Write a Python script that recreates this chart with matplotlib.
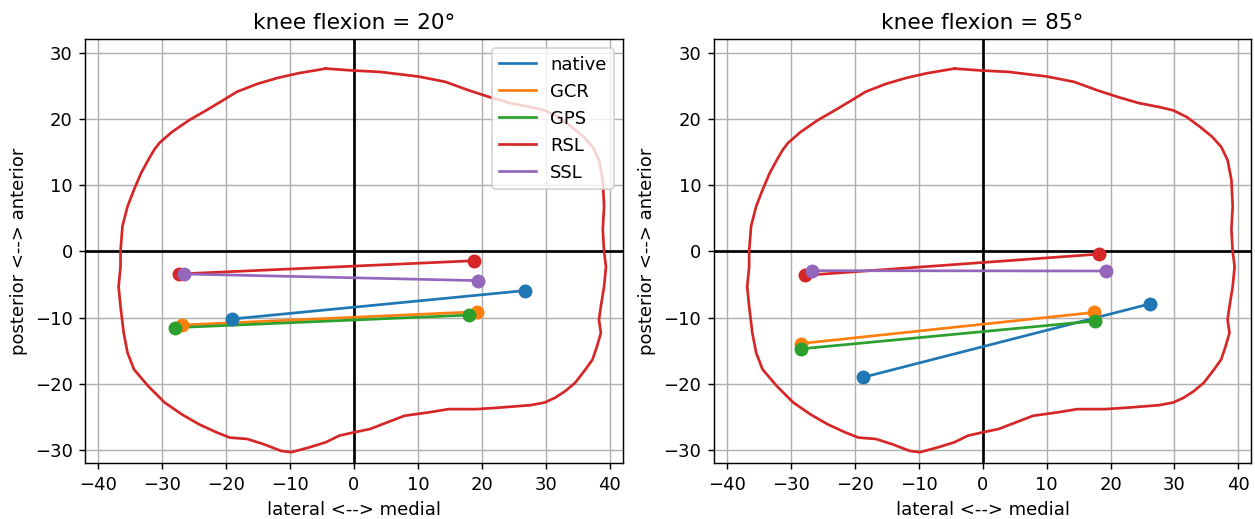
import numpy as np
import matplotlib
matplotlib.use("Agg")
import matplotlib.pyplot as plt

# tibial contour (same outline for both flexion angles)
contour_x = [-4.4, 0.0, 4.1, 10.1, 14.3, 18.0, 21.2, 24.4, 27.6, 29.8, 31.9, 34.0, 35.9, 37.3,
             38.3, 38.9, 39.1, 38.9, 39.1, 39.4, 39.1, 38.6, 38.3, 38.6, 38.0, 37.3, 36.2,
             34.6, 33.0, 31.4, 29.8, 27.6, 25.0, 22.3, 19.1, 14.8, 11.6, 7.9, 5.2, 2.5, 0.0,
             -2.3, -4.4, -7.1, -9.8, -11.4, -14.1, -16.7, -19.4, -21.5, -24.2, -26.9, -29.6,
             -32.2, -34.4, -35.4, -36.0, -36.5, -36.8, -36.5, -36.5, -36.2, -35.4, -34.4,
             -33.3, -32.0, -31.2, -30.4, -28.5, -25.8, -23.1, -20.5, -18.3, -15.1, -11.9, -8.7, -4.4]
contour_y = [27.6, 27.3, 27.1, 26.4, 25.6, 24.3, 23.3, 22.4, 21.8, 21.3, 20.3, 18.8, 17.3, 15.8,
             13.8, 10.8, 6.8, 3.3, 0.0, -2.3, -5.3, -8.3, -10.3, -12.3, -14.3, -16.3, -17.8,
             -19.8, -21.1, -22.1, -22.8, -23.2, -23.4, -23.6, -23.8, -23.8, -24.3, -24.8, -25.8,
             -26.8, -27.3, -27.8, -28.8, -29.6, -30.3, -30.1, -29.1, -28.3, -28.1, -27.3, -26.1,
             -24.6, -22.8, -20.3, -17.8, -15.3, -12.3, -8.3, -5.3, -2.3, 0.0, 3.8, 6.8, 9.3,
             11.8, 14.1, 15.4, 16.4, 18.0, 19.8, 21.3, 22.8, 24.1, 25.3, 26.2, 26.9, 27.6]

designs = ["native", "GCR", "GPS", "RSL", "SSL"]
angles = [20, 85]

# contact points: [lateral (x, y), medial (x, y)] per design
points_20 = {
    "native": [(-19.1, -10.2), (26.8, -5.9)],
    "GCR": [(-26.9, -11.1), (19.3, -9.1)],
    "GPS": [(-28.0, -11.5), (18.0, -9.6)],
    "RSL": [(-27.4, -3.4), (18.7, -1.4)],
    "SSL": [(-26.5, -3.4), (19.4, -4.4)],
}
points_85 = {
    "native": [(-18.7, -19.0), (26.2, -7.9)],
    "GCR": [(-28.4, -13.9), (17.4, -9.2)],
    "GPS": [(-28.4, -14.7), (17.5, -10.5)],
    "RSL": [(-27.7, -3.6), (18.2, -0.4)],
    "SSL": [(-26.7, -2.9), (19.3, -2.95)],
}
all_points = [points_20, points_85]
colors = ["C0", "C1", "C2", "C3", "C4"]

fig, axes = plt.subplots(1, 2, figsize=(1255 / 130, 519 / 130), dpi=130)
fig.subplots_adjust(left=0.068, right=0.997, bottom=0.107, top=0.924, wspace=0.17)

for ax, angle, pts in zip(axes, angles, all_points):
    ax.axhline(0, color="black", lw=1.5)
    ax.axvline(0, color="black", lw=1.5)
    ax.plot(contour_x, contour_y, color="C3", lw=1.5)
    for name, c in zip(designs, colors):
        xs = [p[0] for p in pts[name]]
        ys = [p[1] for p in pts[name]]
        ax.plot(xs, ys, color=c, label=name)
        ax.scatter(xs, ys, color=c, s=45, zorder=3)
    ax.set_xlim(-42, 42)
    ax.set_ylim(-32, 32)
    ax.set_xticks(np.arange(-40, 41, 10))
    ax.set_yticks(np.arange(-30, 31, 10))
    ax.grid(True)
    ax.set_xlabel("lateral <--> medial")
    ax.set_ylabel("posterior <--> anterior")
    ax.set_title("knee flexion = %d°" % angle)

axes[0].legend(loc="upper right")

plt.savefig("out.png")
